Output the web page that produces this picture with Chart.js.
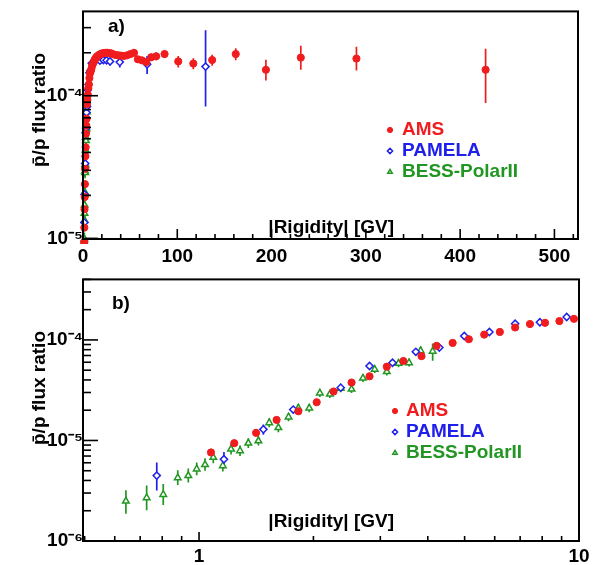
<!DOCTYPE html>
<html><head><meta charset="utf-8">
<script src="https://cdn.jsdelivr.net/npm/chart.js@4/dist/chart.umd.min.js"></script>
<style>
html,body{margin:0;padding:0;background:#fff;overflow:hidden}
#wrap{position:relative;width:603px;height:565px;background:#fff}
canvas{position:absolute;left:0}
#ca{top:0}
#cb{top:268px}
</style></head><body>
<div id="wrap"><canvas id="ca" width="603" height="270"></canvas><canvas id="cb" width="603" height="297"></canvas></div>
<script>
// ---------- data ----------
const amsR = [1.075,1.238,1.413,1.60,1.825,2.04,2.26,2.52,2.81,3.12,3.45,3.85,4.22,4.65,5.13,5.63,6.19,6.79,7.43,8.14,8.88,9.7,
  10.6,11.6,12.6,13.6,14.7,16.0,17.3,18.8,20.3,22.0,23.8,25.7,27.8,30.0,32.3,34.8,37.5,40.4,43.5,46.8,50.3,54.1,58.2,62.5,67.2,72.3,77.6,86.5,
  101,117,137,162,194,231,290,427];
const amsRatio = [7.6e-6,9.4e-6,1.19e-5,1.6e-5,1.95e-5,2.4e-5,3.07e-5,3.77e-5,4.35e-5,5.42e-5,6.17e-5,6.9e-5,8.73e-5,9.34e-5,1.016e-4,1.13e-4,1.2e-4,1.33e-4,1.44e-4,1.48e-4,1.54e-4,1.62e-4,
  1.68e-4,1.74e-4,1.8e-4,1.84e-4,1.88e-4,1.91e-4,1.94e-4,1.96e-4,1.98e-4,1.99e-4,2.0e-4,2.0e-4,1.99e-4,1.98e-4,1.95e-4,1.93e-4,1.92e-4,1.91e-4,1.9e-4,1.92e-4,1.96e-4,2.0e-4,1.8e-4,1.77e-4,1.72e-4,1.86e-4,1.89e-4,1.96e-4,
  1.74e-4,1.68e-4,1.78e-4,1.96e-4,1.52e-4,1.85e-4,1.82e-4,1.52e-4];
const amsErrLo = [0.6e-6,0.6e-6,0.7e-6,0.8e-6,0.9e-6,1.0e-6,1.2e-6,1.4e-6,1.6e-6,1.8e-6,2.0e-6,2.2e-6,2.6e-6,2.8e-6,3.0e-6,3.3e-6,3.5e-6,3.8e-6,4.0e-6,4.2e-6,4.5e-6,4.8e-6,
  5e-6,5e-6,5e-6,5e-6,5e-6,5e-6,5e-6,5e-6,6e-6,6e-6,6e-6,6e-6,6e-6,6e-6,6e-6,7e-6,7e-6,7e-6,7e-6,7e-6,8e-6,8e-6,1.0e-5,1.0e-5,1.1e-5,1.1e-5,1.2e-5,1.2e-5,
  1.6e-5,1.5e-5,1.6e-5,1.9e-5,2.4e-5,3.3e-5,3.2e-5,6.3e-5];
const amsErrHi = [0.6e-6,0.6e-6,0.7e-6,0.8e-6,0.9e-6,1.0e-6,1.2e-6,1.4e-6,1.6e-6,1.8e-6,2.0e-6,2.2e-6,2.6e-6,2.8e-6,3.0e-6,3.3e-6,3.5e-6,3.8e-6,4.0e-6,4.2e-6,4.5e-6,4.8e-6,
  5e-6,5e-6,5e-6,5e-6,5e-6,5e-6,5e-6,5e-6,6e-6,6e-6,6e-6,6e-6,6e-6,6e-6,6e-6,7e-6,7e-6,7e-6,7e-6,7e-6,8e-6,8e-6,1.0e-5,1.0e-5,1.1e-5,1.1e-5,1.2e-5,1.2e-5,
  1.6e-5,1.5e-5,1.6e-5,1.9e-5,2.7e-5,3.9e-5,3.8e-5,6.1e-5];

const pamR = [0.774,1.163,1.477,1.77,2.36,2.81,3.23,3.72,4.29,4.99,5.81,6.79,7.89,9.28,11.5,14.5,18.0,21.6,25.0,28.7,39.0,68.0,130];
const pamRatio = [4.47e-6,6.5e-6,1.29e-5,2.03e-5,3.35e-5,5.5e-5,5.93e-5,7.62e-5,8.4e-5,1.095e-4,1.2e-4,1.45e-4,1.5e-4,1.69e-4,1.72e-4,1.8e-4,1.76e-4,1.78e-4,1.77e-4,1.74e-4,1.72e-4,1.66e-4,1.6e-4];
const pamErrLo = [1.29e-6,1.2e-6,1.5e-6,1.6e-6,2.2e-6,3e-6,3e-6,4e-6,4e-6,5e-6,5e-6,6e-6,6e-6,7e-6,8e-6,8e-6,9e-6,9e-6,1.0e-5,1.1e-5,1.4e-5,2.4e-5,7.6e-5];
const pamErrHi = [1.57e-6,1.2e-6,1.5e-6,1.6e-6,2.2e-6,3e-6,3e-6,4e-6,4e-6,5e-6,5e-6,6e-6,6e-6,7e-6,8e-6,8e-6,9e-6,9e-6,1.0e-5,1.1e-5,1.4e-5,2.4e-5,1.28e-4];

const bessR = [0.642,0.728,0.805,0.879,0.937,0.986,1.037,1.09,1.155,1.214,1.282,1.348,1.433,1.53,1.617,1.72,1.825,1.95,2.08,2.21,2.36,2.52,2.7,2.9,3.12,3.35,3.57,3.83,4.12];
const bessRatio = [2.49e-6,2.69e-6,2.9e-6,4.25e-6,4.47e-6,5.2e-6,5.74e-6,6.78e-6,5.6e-6,8.2e-6,7.9e-6,9.4e-6,9.9e-6,1.5e-5,1.34e-5,1.71e-5,2.1e-5,2.1e-5,2.96e-5,2.89e-5,3.3e-5,3.24e-5,4.16e-5,5.1e-5,4.84e-5,5.84e-5,5.93e-5,7.8e-5,7.7e-5];
const bessErrLo = [0.62e-6,0.67e-6,0.62e-6,0.65e-6,0.65e-6,0.7e-6,0.75e-6,0.85e-6,0.7e-6,0.95e-6,0.9e-6,1.0e-6,1.0e-6,1.5e-6,1.3e-6,1.6e-6,1.9e-6,1.9e-6,2.6e-6,2.5e-6,2.8e-6,2.8e-6,3.5e-6,4.2e-6,4.2e-6,5e-6,5e-6,7e-6,1.5e-5];
const bessErrHi = [0.71e-6,0.87e-6,0.8e-6,0.8e-6,0.8e-6,0.85e-6,0.9e-6,1.0e-6,0.8e-6,1.1e-6,1.0e-6,1.1e-6,1.1e-6,1.6e-6,1.4e-6,1.7e-6,2.0e-6,2.0e-6,2.8e-6,2.7e-6,3.0e-6,3.0e-6,3.8e-6,4.5e-6,4.5e-6,5.5e-6,5.5e-6,8e-6,1.5e-5];

const seriesNames = ["AMS","PAMELA","BESS-PolarII"];
const yTitle = "p\u0304/p flux ratio";
const xTitle = "|Rigidity| [GV]";
const panelLabels = ["a)","b)"];

// tick positions
const xTicksA = [0,20,40,60,80,100,120,140,160,180,200,220,240,260,280,300,320,340,360,380,400,420,440,460,480,500,520];
const yTicksA = [1e-5,2e-5,3e-5,4e-5,5e-5,6e-5,7e-5,8e-5,9e-5,1e-4,2e-4,3e-4];
const xTicksB = [0.5,0.6,0.7,0.8,0.9,1,2,3,4,5,6,7,8,9,10];
const yTicksB = [1e-6,2e-6,3e-6,4e-6,5e-6,6e-6,7e-6,8e-6,9e-6,1e-5,2e-5,3e-5,4e-5,5e-5,6e-5,7e-5,8e-5,9e-5,1e-4,2e-4,3e-4,4e-4];

// ---------- rendering ----------
const FONT = "'Liberation Sans', Arial, Helvetica, sans-serif";
const RED = 'rgb(240,28,30)', BLUE = 'rgb(32,32,235)', GREEN = 'rgb(34,150,34)';
const SUP = {'-6':'10\u207B\u2076','-5':'10\u207B\u2075','-4':'10\u207B\u2074'};

function pts(xs, ys){ return xs.map((x,i)=>({x:x, y:ys[i]})); }
function makeDatasets(){
  return [
    {label:seriesNames[0], data:pts(amsR,amsRatio), errLo:amsErrLo, errHi:amsErrHi, pointStyle:'circle', radius:3.6,
      backgroundColor:RED, borderColor:RED, borderWidth:1, clip:5},
    {label:seriesNames[1], data:pts(pamR,pamRatio), errLo:pamErrLo, errHi:pamErrHi, pointStyle:'rectRot', radius:3.6,
      backgroundColor:'#fff', borderColor:BLUE, borderWidth:1.5, clip:5},
    {label:seriesNames[2], data:pts(bessR,bessRatio), errLo:bessErrLo, errHi:bessErrHi, pointStyle:'triangle', radius:3.8,
      backgroundColor:'#fff', borderColor:GREEN, borderWidth:1.5, clip:5}
  ];
}

const errorBars = {
  id:'errorBars',
  beforeDatasetsDraw(chart){
    const ctx = chart.ctx, a = chart.chartArea, xs = chart.scales.x, ys = chart.scales.y;
    ctx.save();
    ctx.beginPath(); ctx.rect(a.left-5, a.top, a.width+5, a.height); ctx.clip();
    for (let d = chart.data.datasets.length-1; d >= 0; d--){
      const ds = chart.data.datasets[d];
      ctx.strokeStyle = ds.borderColor; ctx.lineWidth = 1.7;
      ds.data.forEach((p,i)=>{
        const px = xs.getPixelForValue(p.x);
        const lo = Math.max(p.y - ds.errLo[i], 1e-9);
        const y1 = ys.getPixelForValue(lo), y2 = ys.getPixelForValue(p.y + ds.errHi[i]);
        ctx.beginPath(); ctx.moveTo(px,y1); ctx.lineTo(px,y2); ctx.stroke();
      });
    }
    ctx.restore();
  }
};

const frame = {
  id:'frame',
  afterDatasetsDraw(chart, args, o){
    const ctx = chart.ctx, a = chart.chartArea, xs = chart.scales.x, ys = chart.scales.y;
    ctx.save();
    ctx.strokeStyle = '#000'; ctx.lineWidth = 1.6;
    xs.ticks.forEach(t=>{
      const px = xs.getPixelForValue(t.value);
      if (px < a.left-0.5 || px > a.right+0.5) return;
      const L = t.label ? o.xMajor : o.xMinor;
      ctx.beginPath(); ctx.moveTo(px, a.bottom); ctx.lineTo(px, a.bottom-L); ctx.stroke();
    });
    ys.ticks.forEach(t=>{
      const py = ys.getPixelForValue(t.value);
      if (py < a.top-0.5 || py > a.bottom+0.5) return;
      const L = t.label ? o.yMajor : o.yMinor;
      ctx.beginPath(); ctx.moveTo(a.left, py); ctx.lineTo(a.left+L, py); ctx.stroke();
    });
    ctx.lineWidth = 2;
    ctx.strokeRect(a.left, a.top, a.width, a.height);

    ctx.fillStyle = '#000';
    ctx.font = 'bold 19px ' + FONT;
    // y title (rotated)
    ctx.save();
    ctx.translate(o.titleX, o.titleY); ctx.rotate(-Math.PI/2);
    ctx.textAlign = 'center'; ctx.textBaseline = 'middle';
    ctx.fillText(yTitle, 0, 0);
    ctx.restore();
    // panel label
    ctx.textAlign = 'left'; ctx.textBaseline = 'middle';
    ctx.fillText(o.panel, o.panelX, o.panelY);
    // x title inside plot
    ctx.textAlign = 'right';
    ctx.fillText(xTitle, o.xtRight, o.xtY);
    // legend
    chart.data.datasets.forEach((ds,i)=>{
      const ly = o.legY + i*o.legDy;
      ctx.fillStyle = ds.backgroundColor; ctx.strokeStyle = ds.borderColor; ctx.lineWidth = ds.borderWidth;
      Chart.helpers.drawPoint(ctx, {pointStyle:ds.pointStyle, radius:2.6, rotation:0, borderWidth:ds.borderWidth}, o.legMarkX, ly);
      ctx.fillStyle = ds.borderColor;
      ctx.textAlign = 'left';
      ctx.fillText(ds.label, o.legTextX, ly);
    });
    ctx.restore();
  }
};

function isPow10(v){ const l = Math.log10(v); return Math.abs(l - Math.round(l)) < 1e-6; }
const tickFont = {family:FONT, size:19, weight:'bold'};

function makeChart(id, cfg){
  return new Chart(document.getElementById(id), {
    type:'scatter',
    data:{datasets:makeDatasets()},
    plugins:[errorBars, frame],
    options:{
      responsive:false, animation:false, devicePixelRatio:1,
      layout:{padding:cfg.padding},
      plugins:{legend:{display:false}, tooltip:{enabled:false}, frame:cfg.frame},
      elements:{point:{hoverRadius:3.6}},
      scales:{
        x:{type:cfg.xType, min:cfg.xMin, max:cfg.xMax, position:'bottom',
           grid:{display:false, drawTicks:false}, border:{display:false},
           afterBuildTicks:s=>{ s.ticks = cfg.xTicks.map(v=>({value:v})); },
           afterFit:s=>{ s.height = cfg.xH; },
           ticks:{autoSkip:false, maxRotation:0, padding:cfg.xPad, color:'#000', font:tickFont,
                  callback:cfg.xLabel}},
        y:{type:'logarithmic', min:cfg.yMin, max:cfg.yMax, position:'left',
           grid:{display:false, drawTicks:false}, border:{display:false},
           afterBuildTicks:s=>{ s.ticks = cfg.yTicks.map(v=>({value:v})); },
           afterFit:s=>{ s.width = 83; },
           ticks:{autoSkip:false, padding:0, color:'#000', font:tickFont,
                  callback:v=> isPow10(v) ? SUP[String(Math.round(Math.log10(v)))] : ''}}
      }
    }
  });
}

makeChart('ca', {
  padding:{left:0, top:10, right:25, bottom:0},
  xType:'linear', xMin:0, xMax:525, xTicks:xTicksA, xH:31, xPad:6,
  xLabel:v=> (v % 100 === 0) ? String(v) : '',
  yMin:9.9e-6, yMax:3.9e-4, yTicks:yTicksA,
  frame:{xMajor:10, xMinor:5, yMajor:15, yMinor:8, titleX:40, titleY:110,
         panel:panelLabels[0], panelX:108, panelY:27, xtRight:394, xtY:228,
         legMarkX:390, legTextX:402, legY:130, legDy:21}
});
makeChart('cb', {
  padding:{left:0, top:9, right:24, bottom:0},
  xType:'logarithmic', xMin:0.495, xMax:10, xTicks:xTicksB, xH:24, xPad:4,
  xLabel:v=> isPow10(v) ? String(Math.round(v)) : '',
  yMin:1e-6, yMax:4e-4, yTicks:yTicksB,
  frame:{xMajor:9, xMinor:5, yMajor:15, yMinor:8, titleX:40, titleY:120,
         panel:panelLabels[1], panelX:112, panelY:36, xtRight:394, xtY:254,
         legMarkX:395, legTextX:406, legY:143, legDy:21}
});
</script>
</body></html>
